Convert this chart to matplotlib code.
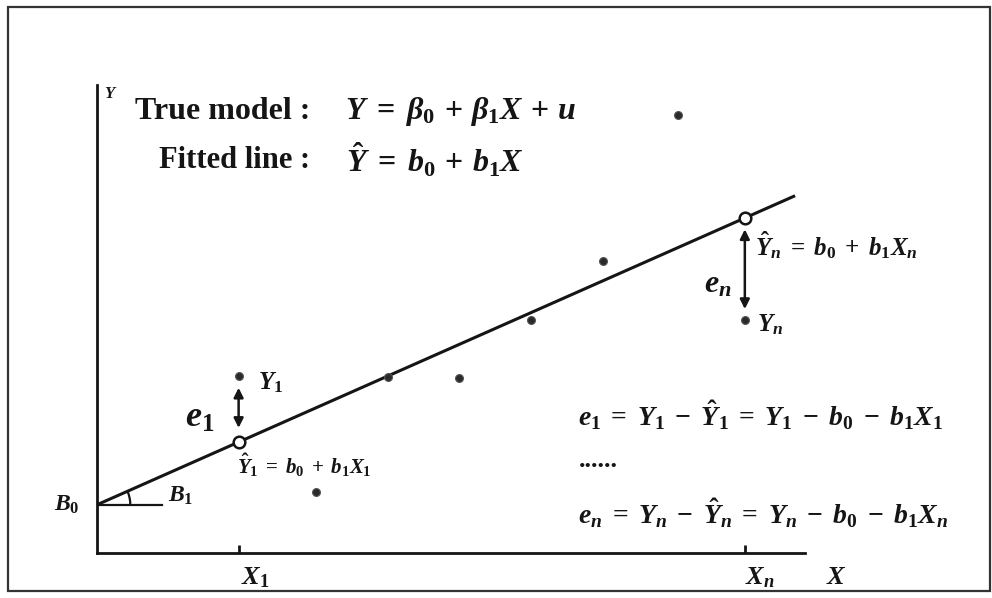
import numpy as np
import matplotlib
matplotlib.use("Agg")
import matplotlib.pyplot as plt
from matplotlib.patches import Arc, Rectangle

plt.rcParams['font.family'] = ['Liberation Serif', 'DejaVu Serif']
plt.rcParams['mathtext.fontset'] = 'custom'
plt.rcParams['mathtext.rm'] = 'Liberation Serif:bold'
plt.rcParams['mathtext.it'] = 'Liberation Serif:italic:bold'
plt.rcParams['mathtext.bf'] = 'Liberation Serif:bold'

# fitted line coefficients
b0 = 0.68
b1 = 0.442

# observations (X, Y)
obs_x = [2.0, 3.09, 4.11, 5.11, 6.13, 7.15, 8.21, 9.15]
obs_y = [2.50, 0.86, 2.48, 2.47, 3.29, 4.12, 6.18, 3.29]

# the two points whose residuals are marked
X1 = 2.0
Xn = 9.15
Y1 = 2.50
Yn = 3.29

ink = '#151515'

fig = plt.figure(figsize=(9.92, 5.98), dpi=100)
fig.patch.set_facecolor('white')

# border round the whole figure
fig.add_artist(Rectangle((0.008, 0.012), 0.99, 0.977, transform=fig.transFigure,
                         fill=False, edgecolor='#333333', linewidth=1.6))

ax = fig.add_axes([0.0978, 0.0753, 0.7137, 0.7826])
ax.set_xlim(0, 10)
ax.set_ylim(0, 6.6)
for side in ['top', 'right']:
    ax.spines[side].set_visible(False)
for side in ['left', 'bottom']:
    ax.spines[side].set_linewidth(2.0)
    ax.spines[side].set_color(ink)
ax.set_yticks([])
ax.set_xticks([X1, Xn])
ax.set_xticklabels([])
ax.tick_params(axis='x', direction='in', length=6, width=2, color=ink)

# fitted line
xs = np.array([0, 9.86])
ax.plot(xs, b0 + b1 * xs, color=ink, linewidth=2.2, solid_capstyle='butt', zorder=2)

# horizontal reference and the angle B1
ax.plot([0, 0.92], [b0, b0], color=ink, linewidth=1.6)
ang = np.degrees(np.arctan(b1))
ax.add_patch(Arc((0, b0), 0.94, 0.94, theta1=0, theta2=ang, color=ink, linewidth=1.6))

# observed points
ax.scatter(obs_x, obs_y, s=32, color='#2a2a2a', edgecolor='#555555', linewidth=0.8,
           zorder=4, clip_on=False)

# fitted values at X1 and Xn
fit_x = [X1, Xn]
fit_y = [b0 + b1 * X1, b0 + b1 * Xn]
ax.scatter(fit_x, fit_y, s=70, facecolor='white', edgecolor=ink, linewidth=1.8, zorder=5)

# residual arrows
arrow = dict(arrowstyle='<|-|>', color=ink, linewidth=1.8, mutation_scale=14,
             shrinkA=0, shrinkB=0)
ax.annotate('', xy=(X1, Y1 - 0.17), xytext=(X1, fit_y[0] + 0.2), arrowprops=arrow)
ax.annotate('', xy=(Xn, Yn + 0.15), xytext=(Xn, fit_y[1] - 0.16), arrowprops=arrow)

# labels
ax.text(0.1, 6.47, '$Y$', fontsize=12, ha='left', va='center', color=ink)
ax.text(0.54, 6.22, 'True model :', fontsize=23, fontweight='bold',
        ha='left', va='center', color=ink)
ax.text(3.50, 6.22, r'$Y\;=\;\beta_0\,+\,\beta_1X\,+\,u$', fontsize=23,
        ha='left', va='center', color=ink)
ax.text(0.88, 5.54, 'Fitted line :', fontsize=22, fontweight='bold',
        ha='left', va='center', color=ink)
ax.text(3.52, 5.54, r'$\hat{Y}\;=\;b_0\,+\,b_1X$', fontsize=23,
        ha='left', va='center', color=ink)

ax.text(-0.42, b0, '$B_0$', fontsize=17, ha='center', va='center', color=ink)
ax.text(1.0, 0.8, '$B_1$', fontsize=17, ha='left', va='center', color=ink)

ax.text(1.45, 1.9, '$e_1$', fontsize=26, ha='center', va='center', color=ink)
ax.text(2.27, 2.40, '$Y_1$', fontsize=18, ha='left', va='center', color=ink)
ax.text(1.98, 1.23, r'$\hat{Y}_1\;=\;b_0\;+\;b_1X_1$', fontsize=15,
        ha='left', va='center', color=ink)

ax.text(8.77, 3.78, '$e_n$', fontsize=23, ha='center', va='center', color=ink)
ax.text(9.30, 4.34, r'$\hat{Y}_n\;=\;b_0\;+\;b_1X_n$', fontsize=18,
        ha='left', va='center', color=ink)
ax.text(9.32, 3.22, '$Y_n$', fontsize=18, ha='left', va='center', color=ink)

ax.text(6.79, 1.95, r'$e_1\;=\;Y_1\;-\;\hat{Y}_1\;=\;Y_1\;-\;b_0\;-\;b_1X_1$', fontsize=20,
        ha='left', va='center', color=ink)
ax.text(6.80, 1.30, '......', fontsize=19, fontweight='bold', ha='left', va='center', color=ink)
ax.text(6.79, 0.56, r'$e_n\;=\;Y_n\;-\;\hat{Y}_n\;=\;Y_n\;-\;b_0\;-\;b_1X_n$', fontsize=20,
        ha='left', va='center', color=ink)

ax.text(X1 + 0.03, -0.35, '$X_1$', fontsize=19, ha='left', va='center', color=ink)
ax.text(Xn, -0.35, '$X_n$', fontsize=19, ha='left', va='center', color=ink)
ax.text(10.3, -0.35, '$X$', fontsize=19, ha='left', va='center', color=ink)

fig.savefig('out.png', dpi=100, facecolor='white')
